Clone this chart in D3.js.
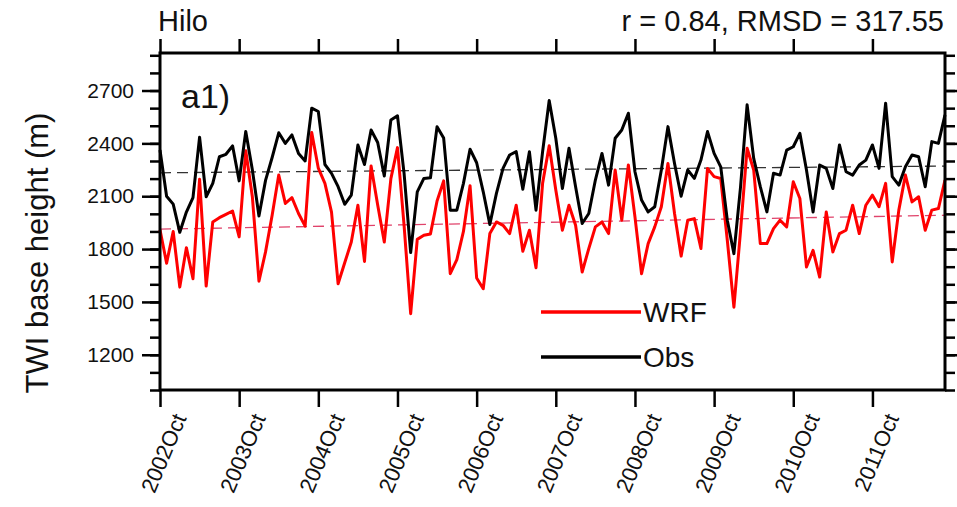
<!DOCTYPE html>
<html>
<head>
<meta charset="utf-8">
<script src="https://cdn.jsdelivr.net/npm/d3@7"></script>
<style>
  body { margin: 0; background: #fff; }
  text { font-family: "Liberation Sans", Arial, sans-serif; fill: #111; }
</style>
</head>
<body>
<div id="chart"></div>
<script>
// monthly TWI base height, Oct 2002 .. Sep 2012 (month index 0..119)
const obs = [
  2362, 2100, 2055, 1895, 2010, 2092, 2435, 2097, 2173, 2324, 2338, 2386,
  2187, 2467, 2250, 1988, 2190, 2320, 2460, 2400, 2448, 2343, 2300, 2600,
  2581, 2280, 2230, 2154, 2054, 2106, 2391, 2280, 2476, 2405, 2215, 2533,
  2557, 2230, 1780, 2125, 2201, 2205, 2495, 2430, 2021, 2021, 2173, 2367,
  2290, 2125, 1940, 2116, 2258, 2334, 2353, 2140, 2353, 2021, 2353, 2643,
  2429, 2144, 2372, 2154, 1945, 2002, 2192, 2343, 2163, 2429, 2476, 2571,
  2239, 2078, 2011, 2040, 2249, 2495, 2286, 2100, 2249, 2201, 2305, 2467,
  2343, 2267, 1964, 1774, 2150, 2619, 2315, 2154, 2011, 2230, 2220, 2362,
  2381, 2457, 2249, 2010, 2277, 2258, 2144, 2391, 2239, 2220, 2277, 2305,
  2391, 2258, 2628, 2211, 2163, 2267, 2334, 2324, 2154, 2410, 2400, 2562
];
const wrf = [
  1910, 1720, 1900, 1584, 1808, 1632, 2197, 1590, 1954, 1978, 1997, 2016,
  1869, 2358, 2097, 1618, 1784, 1992, 2220, 2059, 2092, 2002, 1930, 2462,
  2259, 2173, 2010, 1603, 1722, 1840, 2049, 1730, 2272, 2050, 1840, 2200,
  2376, 1935, 1433, 1855, 1878, 1886, 2073, 2187, 1660, 1740, 1900, 2160,
  1636, 1575, 1888, 1954, 1935, 1888, 2049, 1788, 1907, 1694, 2173, 2386,
  2135, 1907, 2049, 1935, 1670, 1803, 1926, 1954, 1888, 2249, 1964, 2277,
  1983, 1660, 1831, 1926, 2040, 2286, 2002, 1760, 1964, 1973, 1803, 2258,
  2211, 2201, 1850, 1470, 1900, 2372, 2249, 1831, 1831, 1916, 1964, 1926,
  2182, 2087, 1698, 1793, 1641, 2011, 1784, 1888, 1907, 2049, 1888, 2049,
  2106, 2040, 2173, 1727, 2021, 2220, 2068, 2097, 1907, 2021, 2030, 2192
];
// trend lines (value at first and last month)
const obsTrend = [2233, 2271];
const wrfTrend = [1913, 1992];

const xTickMonths = [0, 12, 24, 36, 48, 60, 72, 84, 96, 108];
const xTickLabels = ["2002Oct", "2003Oct", "2004Oct", "2005Oct", "2006Oct",
                     "2007Oct", "2008Oct", "2009Oct", "2010Oct", "2011Oct"];
const yTicks = [1200, 1500, 1800, 2100, 2400, 2700];
const yMinorTicks = d3.range(1000, 2901, 100);

const legendNames = ["WRF", "Obs"];
const seriesColors = ["#ff0000", "#000000"];

function main() {
    const width = 957, height = 507;
    const plot = {left: 160, right: 945, top: 53, bottom: 390};

    const svg = d3.select("#chart")
        .append("svg")
        .attr("width", width)
        .attr("height", height);

    svg.append("rect").attr("width", width).attr("height", height).attr("fill", "#fff");

    const xScale = d3.scaleLinear()
        .domain([0, obs.length - 1])
        .range([plot.left, plot.right]);
    const yScale = d3.scaleLinear()
        .domain([1000, 2913])
        .range([plot.bottom, plot.top]);

    // axes
    const bottomAxis = svg.append("g")
        .attr("transform", `translate(0, ${plot.bottom})`)
        .call(d3.axisBottom(xScale).tickValues(xTickMonths).tickSize(17).tickFormat((d, i) => xTickLabels[i]));
    bottomAxis.selectAll("text")
        .attr("font-size", 22)
        .attr("text-anchor", "end")
        .attr("dx", 0).attr("dy", 0)
        .attr("transform", "translate(8, 20) rotate(-67)");

    svg.append("g")
        .attr("transform", `translate(0, ${plot.top})`)
        .call(d3.axisTop(xScale).tickValues(xTickMonths).tickSize(14).tickFormat(""));

    const leftAxis = svg.append("g")
        .attr("transform", `translate(${plot.left}, 0)`)
        .call(d3.axisLeft(yScale).tickValues(yTicks).tickSize(18).tickPadding(8).tickFormat(d3.format("d")));
    leftAxis.selectAll("text").attr("font-size", 21);

    svg.append("g")
        .attr("transform", `translate(${plot.left}, 0)`)
        .call(d3.axisLeft(yScale).tickValues(yMinorTicks).tickSize(10).tickFormat(""));

    svg.append("g")
        .attr("transform", `translate(${plot.right}, 0)`)
        .call(d3.axisRight(yScale).tickValues(yTicks).tickSize(18).tickFormat(""));
    svg.append("g")
        .attr("transform", `translate(${plot.right}, 0)`)
        .call(d3.axisRight(yScale).tickValues(yMinorTicks).tickSize(10).tickFormat(""));

    svg.selectAll(".domain").remove();
    svg.selectAll(".tick line").attr("stroke", "#000").attr("stroke-width", 2.5);

    // trend lines
    const trends = [[wrfTrend, "#e0436b"], [obsTrend, "#333333"]];
    trends.forEach(function(t) {
        svg.append("line")
            .attr("x1", xScale(0)).attr("x2", xScale(obs.length - 1))
            .attr("y1", yScale(t[0][0])).attr("y2", yScale(t[0][1]))
            .attr("stroke", t[1])
            .attr("stroke-width", 1.3)
            .attr("stroke-dasharray", "11,6");
    });

    // data lines
    const line = d3.line()
        .x(function(d, i) { return xScale(i); })
        .y(function(d) { return yScale(d); });

    [wrf, obs].forEach(function(series, k) {
        svg.append("path")
            .datum(series)
            .attr("fill", "none")
            .attr("stroke", seriesColors[k])
            .attr("stroke-width", 3)
            .attr("stroke-linejoin", "round")
            .attr("d", line);
    });

    // frame
    svg.append("rect")
        .attr("x", plot.left).attr("y", plot.top)
        .attr("width", plot.right - plot.left)
        .attr("height", plot.bottom - plot.top)
        .attr("fill", "none")
        .attr("stroke", "#000")
        .attr("stroke-width", 3);

    // legend
    legendNames.forEach(function(name, k) {
        const ly = 312 + k * 45;
        svg.append("line")
            .attr("x1", 541).attr("x2", 641)
            .attr("y1", ly).attr("y2", ly)
            .attr("stroke", seriesColors[k])
            .attr("stroke-width", 3.5);
        svg.append("text")
            .attr("x", 643).attr("y", ly + 10)
            .attr("font-size", 28)
            .text(name);
    });

    // labels
    svg.append("text").attr("x", 181).attr("y", 108).attr("font-size", 34).text("a1)");
    svg.append("text").attr("x", 158).attr("y", 31).attr("font-size", 29).text("Hilo");
    svg.append("text").attr("x", 944).attr("y", 31).attr("font-size", 29)
        .attr("text-anchor", "end").text("r = 0.84, RMSD = 317.55");
    svg.append("text")
        .attr("transform", "translate(48, 253) rotate(-90)")
        .attr("text-anchor", "middle")
        .attr("font-size", 31)
        .text("TWI base height (m)");
}

main();
</script>
</body>
</html>
